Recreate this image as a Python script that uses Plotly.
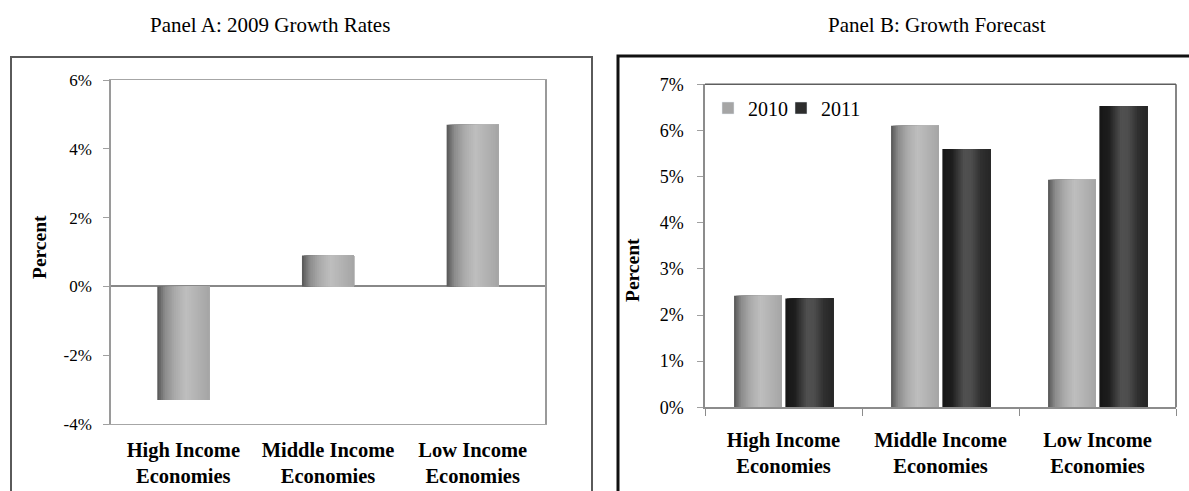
import plotly.graph_objects as go

# ---------------- data ----------------
categories = ["High Income<br>Economies", "Middle Income<br>Economies", "Low Income<br>Economies"]
growth_2009 = [-3.3, 0.9, 4.7]
forecast_2010 = [2.42, 6.10, 4.93]
forecast_2011 = [2.36, 5.60, 6.53]
series_names = ["2010", "2011"]
panel_titles = ["Panel A: 2009 Growth Rates", "Panel B: Growth Forecast"]
y_title = "Percent"
ticks_a = [-4, -2, 0, 2, 4, 6]
ticklabels_a = ["-4%", "-2%", "0%", "2%", "4%", "6%"]
ticks_b = [0, 1, 2, 3, 4, 5, 6, 7]
ticklabels_b = ["0%", "1%", "2%", "3%", "4%", "5%", "6%", "7%"]

W, H = 1189, 491
SERIF = "Liberation Serif, Times New Roman, serif"


def fx(p):
    return p / W


def fy(p):
    return 1 - p / H


# gradient stops (position, rgb)
light_stops = [(0.0, (85, 85, 85)), (0.15, (140, 140, 140)), (0.35, (172, 172, 172)),
               (0.55, (190, 190, 190)), (0.8, (176, 176, 176)), (1.0, (165, 165, 165))]
dark_stops = [(0.0, (22, 22, 22)), (0.2, (30, 30, 30)), (0.45, (80, 80, 80)),
              (0.6, (78, 78, 78)), (0.8, (48, 48, 48)), (1.0, (38, 38, 38))]


def interp(stops, t):
    for (p0, c0), (p1, c1) in zip(stops[:-1], stops[1:]):
        if p0 <= t <= p1:
            f = (t - p0) / (p1 - p0)
            c = [round(a + (b - a) * f) for a, b in zip(c0, c1)]
            return "rgb(%d,%d,%d)" % tuple(c)
    return "rgb(%d,%d,%d)" % stops[-1][1]


fig = go.Figure()


def add_gradient_bars(x, y, start, width, stops, xa, ya, K=28):
    step = width / K
    for i in range(K):
        t = (i + 0.5) / K
        fig.add_trace(go.Bar(
            x=x, y=y, offset=start + i * step, width=width - i * step,
            marker=dict(color=interp(stops, t), line=dict(width=0)),
            xaxis=xa, yaxis=ya, showlegend=False, hoverinfo="skip"))


# Panel A
add_gradient_bars(categories, growth_2009, -0.18, 0.36, light_stops, "x", "y")
# Panel B
add_gradient_bars(categories, forecast_2010, -0.315, 0.305, light_stops, "x2", "y2")
add_gradient_bars(categories, forecast_2011, 0.012, 0.305, dark_stops, "x2", "y2")

# legend entries (one legend box per series so they can sit close together)
fig.add_trace(go.Bar(x=categories, y=[None] * 3, name=series_names[0], xaxis="x2", yaxis="y2",
                     marker=dict(color="rgb(165,165,165)"), showlegend=True, legend="legend"))
fig.add_trace(go.Bar(x=categories, y=[None] * 3, name=series_names[1], xaxis="x2", yaxis="y2",
                     marker=dict(color="rgb(45,45,45)"), showlegend=True, legend="legend2"))

tickfont_a = dict(family=SERIF, size=17, color="black")
tickfont_b = dict(family=SERIF, size=18, color="black")
catfont = dict(family=SERIF, size=20.5, color="black", weight="bold")
legfont = dict(family=SERIF, size=20, color="black")

fig.update_layout(
    width=W, height=H,
    margin=dict(l=0, r=0, t=0, b=0, autoexpand=False),
    paper_bgcolor="white", plot_bgcolor="white",
    barmode="overlay",
    font=dict(family=SERIF, color="black"),
    showlegend=True,
    legend=dict(orientation="h", x=fx(708), y=fy(108), xanchor="left", yanchor="middle",
                font=legfont, bgcolor="rgba(0,0,0,0)", borderwidth=0),
    legend2=dict(orientation="h", x=fx(781), y=fy(108), xanchor="left", yanchor="middle",
                 font=legfont, bgcolor="rgba(0,0,0,0)", borderwidth=0),
    xaxis=dict(domain=[fx(111), fx(545)], anchor="y", type="category", range=[-0.5, 2.5],
               showline=True, linecolor="#a6a6a6", linewidth=1, mirror=True, automargin=False,
               ticks="", tickfont=catfont, ticklabelstandoff=7, showgrid=False, fixedrange=True),
    yaxis=dict(domain=[fy(424), fy(80)], anchor="x", range=[-4, 6],
               tickvals=ticks_a, ticktext=ticklabels_a, automargin=False,
               showline=True, linecolor="#9a9a9a", linewidth=1.5, mirror=True,
               ticks="outside", ticklen=6, tickcolor="#a0a0a0", tickfont=tickfont_a,
               ticklabelstandoff=8,
               zeroline=True, zerolinecolor="#888888", zerolinewidth=2, showgrid=False),
    xaxis2=dict(domain=[fx(705), fx(1176)], anchor="y2", type="category", range=[-0.5, 2.5],
                showline=True, linecolor="#8c8c8c", linewidth=1.5, automargin=False,
                ticks="outside", tickson="boundaries", ticklen=7, tickcolor="#8c8c8c",
                tickfont=catfont, ticklabelstandoff=13, showgrid=False),
    yaxis2=dict(domain=[fy(407.3), fy(84.3)], anchor="x2", range=[0, 7],
                tickvals=ticks_b, ticktext=ticklabels_b, automargin=False,
                showline=True, linecolor="#8c8c8c", linewidth=1.5,
                ticks="outside", ticklen=6, tickcolor="#a0a0a0", tickfont=tickfont_b,
                ticklabelstandoff=10, zeroline=False, showgrid=False),
)

shapes = [
    # Panel A frame
    dict(type="rect", xref="paper", yref="paper", x0=fx(11), x1=fx(592), y0=-0.05, y1=fy(57),
         line=dict(color="#5a5a5a", width=2), fillcolor="rgba(0,0,0,0)", layer="below"),
    # Panel B frame
    dict(type="rect", xref="paper", yref="paper", x0=fx(618), x1=1.05, y0=-0.05, y1=fy(56),
         line=dict(color="#111111", width=3), fillcolor="rgba(0,0,0,0)", layer="below"),
    # Panel B plot area top/right border
    dict(type="line", xref="x2 domain", yref="y2 domain", x0=0, x1=1, y0=1, y1=1,
         line=dict(color="#5e5e5e", width=1.5)),
    dict(type="line", xref="x2 domain", yref="y2 domain", x0=1, x1=1, y0=0, y1=1,
         line=dict(color="#5e5e5e", width=1.5)),
]
fig.update_layout(shapes=shapes)

annotations = [
    dict(text=panel_titles[0], x=fx(270), y=fy(25), xref="paper", yref="paper",
         xanchor="center", yanchor="middle",
         showarrow=False, font=dict(family=SERIF, size=21, color="black")),
    dict(text=panel_titles[1], x=fx(937), y=fy(25), xref="paper", yref="paper",
         xanchor="center", yanchor="middle",
         showarrow=False, font=dict(family=SERIF, size=21, color="black")),
    dict(text=y_title, x=fx(39), y=fy(247), xref="paper", yref="paper", textangle=-90,
         xanchor="center", yanchor="middle",
         showarrow=False, font=dict(family=SERIF, size=19.5, color="black", weight="bold")),
    dict(text=y_title, x=fx(632), y=fy(270), xref="paper", yref="paper", textangle=-90,
         xanchor="center", yanchor="middle",
         showarrow=False, font=dict(family=SERIF, size=19.5, color="black", weight="bold")),
]
fig.update_layout(annotations=annotations)

fig.write_html("out.html", include_plotlyjs=True, full_html=True,
               config={"displayModeBar": False},
               post_script="document.body.style.margin='0';")
